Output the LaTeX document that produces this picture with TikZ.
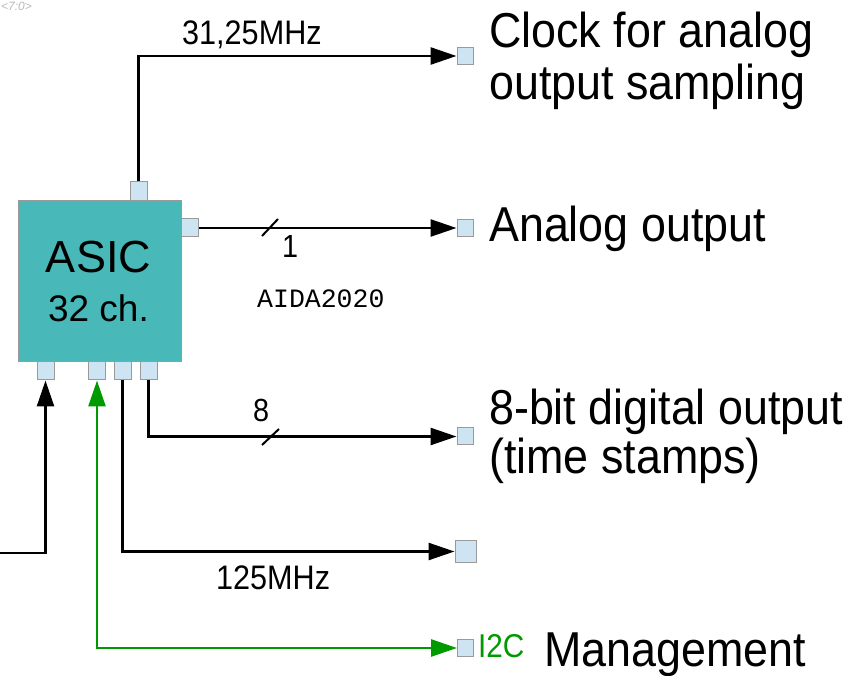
\documentclass[tikz,border=0pt]{standalone}
\usepackage{fontspec}
\setmainfont{Liberation Sans}
\newfontfamily\bigf[FakeStretch=0.915]{Liberation Sans}
\newfontfamily\smallf[FakeStretch=0.9]{Liberation Sans}
\newfontfamily\monof{Liberation Mono}
\usetikzlibrary{arrows.meta}
\definecolor{asicfill}{HTML}{48B8B8}
\definecolor{pinfill}{HTML}{CFE4F2}
\definecolor{pinedge}{HTML}{9A9A9A}
\definecolor{mgreen}{HTML}{009A00}
\definecolor{faint}{HTML}{B8B8B8}
\begin{document}
\begin{tikzpicture}[x=1pt,y=-1pt,
  pinbox/.style={draw=pinedge, fill=pinfill, line width=1pt, minimum width=16pt, minimum height=17pt, inner sep=0pt},
  asicbox/.style={draw=pinedge, fill=asicfill, line width=1pt, minimum width=163pt, minimum height=161pt, inner sep=0pt},
  wire/.style={line width=2.6pt, black},
  gwire/.style={line width=2.6pt, mgreen},
  tip/.style={-{Triangle[length=26pt,width=17pt]}},
  slashmark/.style={line width=2pt, black},
  biglbl/.style={anchor=base west, inner sep=0pt, font=\bigf\fontsize{49}{52}\selectfont},
  smalllbl/.style={anchor=base west, inner sep=0pt, font=\smallf\fontsize{34}{40}\selectfont},
  boxtxt/.style={anchor=base, inner sep=0pt}
]
\useasboundingbox (0,0) rectangle (855,676);

% ASIC block
\node[asicbox] (asic) at (99.5,281.5) {};
\node[boxtxt, font=\fontsize{45}{50}\selectfont] (asicname) at (98.5,273) {ASIC};
\node[boxtxt, font=\fontsize{37}{42}\selectfont] (asicch) at (98.5,321.7) {32 ch.};

% pins on the ASIC
\node[pinbox, minimum width=17pt, minimum height=19pt] (ptop) at (138.5,191.5) {};
\node[pinbox, minimum width=17pt, minimum height=18pt] (pright) at (189.5,228) {};
\node[pinbox, minimum width=17pt, minimum height=18pt] (p1) at (45.5,371) {};
\node[pinbox, minimum width=17pt, minimum height=18pt] (p2) at (97,371) {};
\node[pinbox, minimum width=17pt, minimum height=18pt] (p3) at (122.5,371) {};
\node[pinbox, minimum width=17pt, minimum height=18pt] (p4) at (148.5,371) {};

% end pins
\node[pinbox] (e1) at (465,56) {};
\node[pinbox] (e2) at (465,228) {};
\node[pinbox] (e3) at (465,436.5) {};
\node[pinbox, minimum width=21pt, minimum height=22pt] (e4) at (465.5,551.5) {};
\node[pinbox] (e5) at (465.5,648) {};

% connectors
\draw[wire, tip] (ptop.north) |- (e1.west);
\draw[wire, tip] (pright.east) -- (e2.west);
\draw[wire, tip] (p4.south) |- (e3.west);
\draw[wire, tip] (p3.south) |- (e4.west);
\draw[gwire, {Triangle[length=26pt,width=17pt]}-{Triangle[length=26pt,width=17pt]}] (p2.south) |- (e5.west);
\coordinate (lin) at (-2,553);
\draw[wire, tip] (lin) -| (p1.south);

% bus slashes
\draw[slashmark] (262,236) -- (278,219);
\draw[slashmark] (262,445) -- (279,429);

% small labels
\node[smalllbl] (f1) at (182,45) {31,25MHz};
\node[smalllbl] (f2) at (216,589) {125MHz};
\node[smalllbl, font=\smallf\fontsize{32}{36}\selectfont] (n1) at (282,258) {1};
\node[smalllbl, font=\smallf\fontsize{32}{36}\selectfont] (n8) at (253,422) {8};
\node[anchor=base west, inner sep=0pt, font=\monof\fontsize{26.5}{30}\selectfont] (aida) at (257,308) {AIDA2020};
\node[anchor=base west, inner sep=0pt, text=mgreen, font=\smallf\fontsize{33}{36}\selectfont] (i2c) at (478,657) {I2C};
\node[anchor=base west, inner sep=0pt, text=faint, font=\itshape\fontsize{12}{14}\selectfont] (bus) at (1,10.5) {<7:0>};

% big labels
\node[biglbl] (l1a) at (489,48) {Clock for analog};
\node[biglbl] (l1b) at (489,100) {output sampling};
\node[biglbl] (l2) at (489,242) {Analog output};
\node[biglbl] (l3a) at (489,425) {8-bit digital output};
\node[biglbl] (l3b) at (489,474) {(time stamps)};
\node[biglbl] (l5) at (544,666) {Management};
\end{tikzpicture}
\end{document}
